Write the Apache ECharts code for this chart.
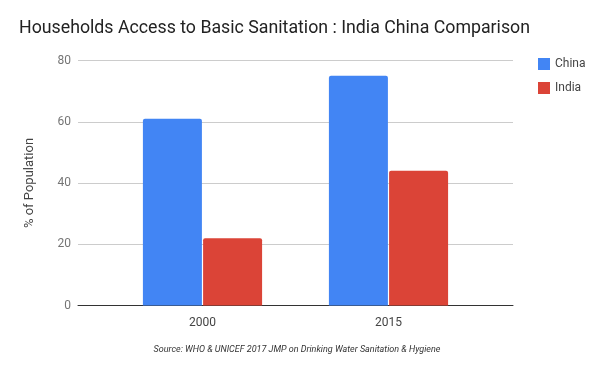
<!DOCTYPE html>
<html>
<head>
<meta charset="utf-8">
<script src="https://cdn.jsdelivr.net/npm/echarts@6/dist/echarts.min.js"></script>
<style>html,body{margin:0;padding:0;background:#fff}#c{width:600px;height:371px}</style>
</head>
<body>
<div id="c"></div>
<script>
var categories = ['2000', '2015'];
var chinaValues = [61, 75];
var indiaValues = [22, 44];
var yTicks = [0, 20, 40, 60, 80];

var chart = echarts.init(document.getElementById('c'), null, {renderer: 'canvas'});
var font = 'Roboto, "Noto Sans", sans-serif';
chart.setOption({
  animation: false,
  textStyle: {fontFamily: font},
  title: [{
    text: 'Households Access to Basic Sanitation : India China Comparison',
    left: 14, top: 15,
    textStyle: {fontFamily: font, fontSize: 17.75, fontWeight: 'normal', color: '#222'}
  }, {
    text: 'Source: WHO & UNICEF 2017 JMP on Drinking Water Sanitation & Hygiene',
    left: 292, textAlign: 'center', top: 340,
    textStyle: {fontFamily: font, fontSize: 9, fontStyle: 'italic', fontWeight: 'normal', color: '#333'}
  }],
  legend: {
    orient: 'vertical', left: 533, top: 53,
    itemWidth: 12, itemHeight: 12, itemGap: 12,
    icon: 'rect',
    textStyle: {fontFamily: font, fontSize: 12, color: '#444'},
    data: ['China', 'India']
  },
  grid: [
    {left: 78, right: 87, top: 60.5, bottom: 65.5},
    {left: 109.5, right: 118.5, top: 60.5, bottom: 65.5}
  ],
  xAxis: [{
    gridIndex: 0, type: 'category', data: categories,
    axisLine: {show: true, lineStyle: {color: '#333', width: 1}},
    axisTick: {show: false}, axisLabel: {show: false}, splitLine: {show: false}
  }, {
    gridIndex: 1, type: 'category', data: categories,
    axisLine: {show: false}, axisTick: {show: false},
    axisLabel: {color: '#444', fontSize: 12, margin: 11, fontFamily: font}
  }],
  yAxis: [{
    gridIndex: 0, type: 'value', min: yTicks[0], max: yTicks[yTicks.length - 1], interval: 20,
    name: '% of Population', nameLocation: 'middle', nameGap: 42, nameRotate: 90,
    nameTextStyle: {color: '#444', fontSize: 13, fontFamily: font},
    axisLine: {show: false}, axisTick: {show: false},
    axisLabel: {color: '#757575', fontSize: 12, margin: 7, fontFamily: font},
    splitLine: {lineStyle: {color: '#cccccc', width: 1}}
  }, {
    gridIndex: 1, type: 'value', min: yTicks[0], max: yTicks[yTicks.length - 1], interval: 20,
    axisLine: {show: false}, axisTick: {show: false}, axisLabel: {show: false}, splitLine: {show: false}
  }],
  series: [{
    name: 'China', type: 'bar', xAxisIndex: 1, yAxisIndex: 1, data: chinaValues,
    barWidth: 59, barGap: '2%',
    itemStyle: {color: '#4285F4', borderRadius: [2, 2, 0, 0]}
  }, {
    name: 'India', type: 'bar', xAxisIndex: 1, yAxisIndex: 1, data: indiaValues,
    barWidth: 59, barGap: '2%',
    itemStyle: {color: '#DB4437', borderRadius: [2, 2, 0, 0]}
  }]
});
</script>
</body>
</html>
